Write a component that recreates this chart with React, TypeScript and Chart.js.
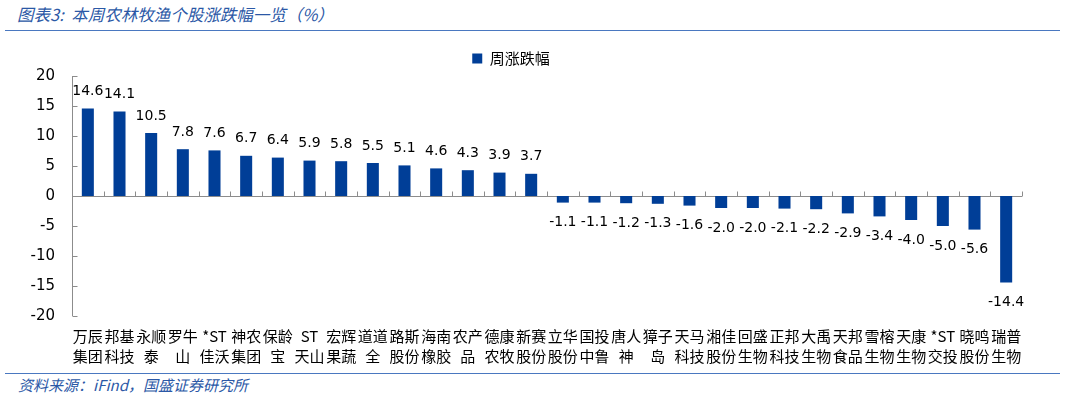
import React, { useEffect, useRef } from "react";
import { Chart, registerables } from "chart.js";

Chart.register(...registerables);

const categories: string[][] = [
  ["万辰", "集团"], ["邦基", "科技"], ["永顺", "泰"], ["罗牛", "山"], ["*ST", "佳沃"],
  ["神农", "集团"], ["保龄", "宝"], ["ST", "天山"], ["宏辉", "果蔬"], ["道道", "全"],
  ["路斯", "股份"], ["海南", "橡胶"], ["农产", "品"], ["德康", "农牧"], ["新赛", "股份"],
  ["立华", "股份"], ["国投", "中鲁"], ["唐人", "神"], ["獐子", "岛"], ["天马", "科技"],
  ["湘佳", "股份"], ["回盛", "生物"], ["正邦", "科技"], ["大禹", "生物"], ["天邦", "食品"],
  ["雪榕", "生物"], ["天康", "生物"], ["*ST", "交投"], ["晓鸣", "股份"], ["瑞普", "生物"],
];

const weeklyChange: number[] = [
  14.6, 14.1, 10.5, 7.8, 7.6, 6.7, 6.4, 5.9, 5.8, 5.5, 5.1, 4.6, 4.3, 3.9, 3.7,
  -1.1, -1.1, -1.2, -1.3, -1.6, -2.0, -2.0, -2.1, -2.2, -2.9, -3.4, -4.0, -5.0, -5.6, -14.4,
];

const seriesName = "周涨跌幅";
const yMin = -20;
const yMax = 20;
const yStep = 5;

const BAR_COLOR = "#003E97";
const AXIS_COLOR = "#8C8C8C";
const CJK = '"Noto Sans CJK SC", sans-serif';
const NUM = '"DejaVu Sans", Tahoma, sans-serif';

const axesPlugin = {
  id: "customAxes",
  beforeDatasetsDraw(chart: any) {
    const { ctx, chartArea, scales } = chart;
    const x = scales.x;
    const y = scales.y;
    ctx.save();
    ctx.strokeStyle = AXIS_COLOR;
    ctx.lineWidth = 1;
    const ax = Math.round(chartArea.left) + 0.5;
    ctx.beginPath();
    ctx.moveTo(ax, chartArea.top);
    ctx.lineTo(ax, chartArea.bottom);
    y.ticks.forEach((t: any) => {
      const py = Math.round(y.getPixelForValue(t.value)) + 0.5;
      ctx.moveTo(ax, py);
      ctx.lineTo(ax + 5, py);
    });
    const zy = Math.round(y.getPixelForValue(0)) + 0.5;
    ctx.moveTo(chartArea.left, zy);
    ctx.lineTo(chartArea.right, zy);
    const n = categories.length;
    const step = n > 1 ? x.getPixelForValue(1) - x.getPixelForValue(0) : chartArea.right - chartArea.left;
    for (let i = 1; i <= n; i++) {
      const px = Math.round(x.getPixelForValue(i - 1) + step / 2) + 0.5;
      ctx.moveTo(px, zy);
      ctx.lineTo(px, zy - 5);
    }
    ctx.stroke();
    ctx.restore();
  },
};

const labelPlugin = {
  id: "barValueLabels",
  afterDatasetsDraw(chart: any) {
    const { ctx } = chart;
    const meta = chart.getDatasetMeta(0);
    const data = chart.data.datasets[0].data as number[];
    ctx.save();
    ctx.font = `14px ${NUM}`;
    ctx.fillStyle = "#000";
    ctx.textAlign = "center";
    ctx.textBaseline = "middle";
    meta.data.forEach((el: any, i: number) => {
      const v = data[i];
      const txt = v.toFixed(1);
      if (v >= 0) {
        ctx.fillText(txt, el.x, el.y - 17);
      } else {
        ctx.fillText(txt, el.x, el.y + 20);
      }
    });
    ctx.restore();
  },
};

function ChartCanvas() {
  const ref = useRef<HTMLCanvasElement | null>(null);
  useEffect(() => {
    if (!ref.current) return;
    const chart = new Chart(ref.current, {
      type: "bar",
      data: {
        labels: categories,
        datasets: [
          {
            label: seriesName,
            data: weeklyChange,
            backgroundColor: BAR_COLOR,
            borderWidth: 0,
            barPercentage: 0.38,
            categoryPercentage: 1,
          },
        ],
      },
      options: {
        animation: false,
        responsive: false,
        maintainAspectRatio: false,
        layout: { padding: { left: 0, right: 43, top: 1, bottom: 0 } },
        plugins: {
          legend: {
            display: true,
            position: "top",
            labels: {
              boxWidth: 10,
              boxHeight: 10,
              color: "#000",
              font: { family: CJK, size: 15 },
              padding: 10,
            },
          },
          tooltip: { enabled: false },
        },
        scales: {
          x: {
            grid: { display: false, drawTicks: false },
            border: { display: false },
            ticks: {
              autoSkip: false,
              maxRotation: 0,
              minRotation: 0,
              color: "#000",
              padding: 11,
              font: { family: CJK, size: 15, lineHeight: 1.3 },
            },
            afterFit(scale: any) {
              scale.height = 54;
            },
          },
          y: {
            min: yMin,
            max: yMax,
            grid: { display: false, drawTicks: false },
            border: { display: false },
            ticks: {
              stepSize: yStep,
              color: "#000",
              padding: 17,
              font: { family: NUM, size: 15 },
            },
            afterFit(scale: any) {
              scale.width = 72;
            },
          },
        },
      },
      plugins: [axesPlugin, labelPlugin],
    });
    return () => chart.destroy();
  }, []);
  return <canvas ref={ref} width={1065} height={330} style={{ display: "block" }} />;
}

export default function App() {
  return (
    <div
      style={{
        position: "absolute",
        left: 0,
        top: 0,
        width: 1065,
        height: 398,
        background: "#fff",
        overflow: "hidden",
      }}
    >
      <div
        style={{
          position: "absolute",
          left: 17,
          top: 4,
          fontFamily: CJK,
          fontStyle: "italic",
          fontSize: 16.5,
          color: "#2B58A6",
          whiteSpace: "pre",
          lineHeight: "20px",
        }}
      >
        图表3:  本周农林牧渔个股涨跌幅一览（%）
      </div>
      <div
        style={{
          position: "absolute",
          left: 5,
          top: 30,
          width: 1055,
          height: 0,
          borderTop: "1.5px solid #4A78C0",
        }}
      />
      <div style={{ position: "absolute", left: 0, top: 40, width: 1065, height: 330 }}>
        <ChartCanvas />
      </div>
      <div
        style={{
          position: "absolute",
          left: 5,
          top: 373,
          width: 1055,
          height: 0,
          borderTop: "1.5px solid #4A78C0",
        }}
      />
      <div
        style={{
          position: "absolute",
          left: 18,
          top: 376,
          fontFamily: CJK,
          fontStyle: "italic",
          fontSize: 15,
          color: "#2B58A6",
          whiteSpace: "pre",
          lineHeight: "18px",
        }}
      >
        资料来源：iFind，国盛证券研究所
      </div>
    </div>
  );
}
